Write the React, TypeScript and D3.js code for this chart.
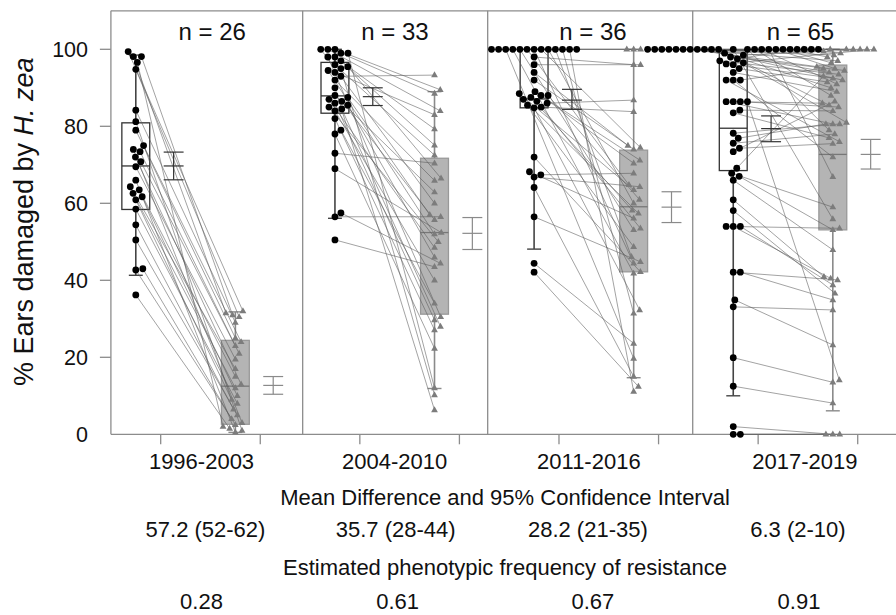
import React from 'react';
import * as d3 from 'd3';

// ---------- data ----------
const periods = ['1996-2003', '2004-2010', '2011-2016', '2017-2019'];
const nLabels = ['n = 26', 'n = 33', 'n = 36', 'n = 65'];
const meanDiffLabels = ['57.2 (52-62)', '35.7 (28-44)', '28.2 (21-35)', '6.3 (2-10)'];
const freqLabels = ['0.28', '0.61', '0.67', '0.91'];
const yTickValues = [0, 20, 40, 60, 80, 100];
const xTickValues = [1, 2, 3, 4, 5, 6, 7, 8];

// paired % ears damaged: non-Bt (circles) and Bt (triangles)
const nonBt1 = [99.4, 98.1, 98.1, 96.6, 94.8, 84.2, 81.2, 79, 75, 74, 73.4, 72, 70.8, 69.5, 66, 64.3, 63.5, 62.6, 61.7, 60.9, 58.5, 54.4, 50.5, 43, 42.7, 36.2];
const bt1 = [32, 31.5, 31, 2, 30.5, 29, 1, 25, 24, 3, 23, 13, 21, 19.5, 0.5, 17, 15, 12, 10, 9, 8, 6.5, 5, 4, 2.5, 1.5];

const nonBt2 = [100, 100, 100, 99, 99, 98, 98, 97, 96, 95.5, 95, 94.5, 94, 93, 92, 90, 88, 87.5, 87, 86.5, 86, 85.5, 85, 84.5, 84, 82, 79, 78, 73, 69, 57.5, 56.5, 50.5];
const bt2 = [89.5, 84, 60, 88.5, 12, 79.3, 30.5, 75.1, 72.5, 66.5, 10.2, 52, 83, 93.3, 65.9, 6.3, 62.9, 57, 48.5, 55.7, 29.7, 46, 50, 28, 40, 27.1, 34, 22.3, 70.4, 52.4, 44.4, 56.5, 43.5];

const nonBt3 = [100, 100, 100, 100, 100, 100, 100, 100, 100, 100, 100, 100, 100, 98, 96, 94, 92, 89, 88.5, 88, 88, 87.5, 87, 86.5, 86, 85.5, 85, 84.8, 72, 68.2, 67.4, 66.8, 64.1, 56.5, 44.4, 42.1];
const bt3 = [44.4, 74.5, 64.8, 60, 53.1, 46.1, 41.8, 31.4, 19.7, 11.1, 100, 100, 100, 96, 96, 75, 74, 71.2, 63.5, 70.4, 61, 58.2, 57.4, 53.5, 86.8, 48.7, 83.8, 32.3, 42.2, 56.1, 67.8, 64.3, 15, 44.8, 23.6, 12.4];

const nonBt4 = [100, 100, 100, 100, 100, 100, 100, 100, 100, 100, 100, 100, 100, 100, 100, 100, 100, 100, 100, 100, 100, 100, 100,
  99, 98.5, 98, 97.5, 97, 96.5, 96.2, 96, 95, 94, 92, 92, 92, 86.4, 86.4, 86.4, 86.4, 84.2, 83.5, 78.2, 76.9, 75.6, 74.3, 73.4,
  69.1, 67.8, 67, 66, 60.9, 58.1, 54, 54, 54, 42.1, 42.1, 34.9, 33.1, 19.9, 12.5, 2, 0, 0];
const bt4 = [55.9, 79, 85.5, 88, 90, 91, 92, 66.9, 94, 95, 95.5, 96.5, 97, 98, 98.5, 99, 99.5, 100, 100, 100, 100, 100, 100,
  100, 100, 94.5, 100, 93.5, 81, 100, 92.5, 91.5, 89, 72, 95, 76, 86, 85, 80.6, 14.1, 84, 77, 80.6, 80.6, 78, 75.5, 86.5,
  93, 59, 53.1, 47.9, 40.9, 36.6, 40.5, 38.8, 53.5, 40.1, 34.9, 23.2, 32.3, 13.5, 8.1, 0, 0, 0];

// box statistics (box = quartiles, middle line)
const nbQ1 = [58.4, 83.4, 84.8, 68.5];
const nbQ3 = [80.9, 96.6, 100, 99.8];
const nbMid = [69.7, 87.9, 87.1, 79.5];
const nbWLo = [41.3, 56.1, 48.1, 10.0];
const nbWHi = [98.5, 100, 100, 100];
const btQ1 = [2.6, 31.2, 42.2, 53.1];
const btQ3 = [24.4, 71.7, 73.8, 95.9];
const btMid = [12.5, 52.4, 59.1, 72.7];
const btWLo = [0.5, 11.9, 14.7, 6.1];
const btWHi = [31.8, 89, 100, 100];

// means and 95% CI
const nbMean = [69.7, 87.7, 86.8, 79.4];
const nbCiLo = [66.1, 85.4, 84.4, 76.0];
const nbCiHi = [73.3, 90.0, 89.6, 82.7];
const btMean = [12.7, 52.2, 59.0, 72.7];
const btCiLo = [10.4, 48.0, 55.0, 68.9];
const btCiHi = [15.0, 56.3, 63.0, 76.6];

// ---------- layout ----------
const W = 896, H = 615;
const x = d3.scaleLinear().domain([0.5, 8.5]).range([110.9, 907.5]);
const y = d3.scaleLinear().domain([0, 110]).range([434.3, 10.8]);
const sepPos = [2.426, 4.284, 6.343];
const periodPos = [1.41, 3.35, 5.30, 7.47];
const nPos = [1.517, 3.353, 5.341, 7.425];
const mdPos = [1.45, 3.36, 5.29, 7.40];
const frPos = [1.41, 3.38, 5.34, 7.41];
const FONT = "'Liberation Sans', Arial, Helvetica, sans-serif";

const groups = [
  { nb: nonBt1, bt: bt1 },
  { nb: nonBt2, bt: bt2 },
  { nb: nonBt3, bt: bt3 },
  { nb: nonBt4, bt: bt4 },
];

function swarm(vals: number[], cx: number, d: number): number[] {
  const order = d3.range(vals.length).sort((a, b) => vals[a] - vals[b] || a - b);
  const placed: { x: number; y: number }[] = [];
  const out: number[] = new Array(vals.length);
  for (const i of order) {
    const py = y(vals[i]);
    const near = placed.filter(p => Math.abs(p.y - py) < d);
    const cands = [0];
    near.forEach(p => {
      const dx = Math.sqrt(d * d - (p.y - py) ** 2);
      cands.push(p.x - cx + dx, p.x - cx - dx);
    });
    cands.sort((a, b) => Math.abs(a) - Math.abs(b) || b - a);
    let best = 0;
    for (const c of cands) {
      if (near.every(p => (cx + c - p.x) ** 2 + (p.y - py) ** 2 >= d * d - 0.01)) { best = c; break; }
    }
    out[i] = cx + best;
    placed.push({ x: cx + best, y: py });
  }
  return out;
}

function tri(cx: number, cy: number) {
  const s = 3.4;
  return `M${cx},${cy - s * 1.1}L${cx - s},${cy + s * 0.65}L${cx + s},${cy + s * 0.65}Z`;
}

export default function App() {
  const frameColor = '#8c8c8c';
  const panels = groups.map((g, p) => {
    const nbC = 2 * p + 0.75;
    const btC = 2 * p + 1.75;
    const nbX = swarm(g.nb, x(nbC), 7.1);
    const btX = swarm(g.bt, x(btC), 6.9);
    return { p, nbC, btC, nbX, btX, g };
  });
  const bw = x(0.64) - x(0.5); // half box width
  const cw = x(0.57) - x(0.5); // whisker cap half width
  const ciw = x(0.6) - x(0.5); // CI cap half width

  return (
    <svg width={W} height={H} style={{ position: 'absolute', left: 0, top: 0, background: '#fff' }} fontFamily={FONT}>
      <rect x={0} y={0} width={W} height={H} fill="#fff" />
      {/* frame */}
      <line x1={x(0.5)} x2={W} y1={y(110)} y2={y(110)} stroke={frameColor} strokeWidth={1.3} />
      <line x1={x(0.5)} x2={W} y1={y(0)} y2={y(0)} stroke={frameColor} strokeWidth={1.3} />
      <line x1={x(0.5)} x2={x(0.5)} y1={y(110)} y2={y(0)} stroke={frameColor} strokeWidth={1.3} />
      {sepPos.map((s, i) => (
        <line key={i} x1={x(s)} x2={x(s)} y1={y(110)} y2={y(0)} stroke={frameColor} strokeWidth={1.3} />
      ))}
      {/* y ticks */}
      {yTickValues.map(v => (
        <g key={v}>
          {v > 0 && <line x1={x(0.5) - 11} x2={x(0.5)} y1={y(v)} y2={y(v)} stroke={frameColor} strokeWidth={1.3} />}
          <text x={88} y={y(v) + 7.7} textAnchor="end" fontSize={21.5} fill="#111">{v}</text>
        </g>
      ))}
      {/* x ticks */}
      {xTickValues.map(t => (
        <line key={t} x1={x(t)} x2={x(t)} y1={y(0)} y2={y(0) + 10} stroke={frameColor} strokeWidth={1.3} />
      ))}

      {/* boxes */}
      {panels.map(({ p, nbC, btC }) => (
        <g key={'box' + p}>
          <line x1={x(nbC)} x2={x(nbC)} y1={y(nbQ1[p])} y2={y(nbWLo[p])} stroke="#444" strokeWidth={1.6} />
          <line x1={x(nbC) - cw} x2={x(nbC) + cw} y1={y(nbWLo[p])} y2={y(nbWLo[p])} stroke="#444" strokeWidth={1.4} />
          {nbWHi[p] > nbQ3[p] + 0.5 && (
            <g>
              <line x1={x(nbC)} x2={x(nbC)} y1={y(nbQ3[p])} y2={y(nbWHi[p])} stroke="#444" strokeWidth={1.6} />
              <line x1={x(nbC) - cw} x2={x(nbC) + cw} y1={y(nbWHi[p])} y2={y(nbWHi[p])} stroke="#444" strokeWidth={1.4} />
            </g>
          )}
          <rect x={x(nbC) - bw} width={2 * bw} y={y(nbQ3[p])} height={y(nbQ1[p]) - y(nbQ3[p])} fill="none" stroke="#333" strokeWidth={1.3} />
          <line x1={x(nbC) - bw} x2={x(nbC) + bw} y1={y(nbMid[p])} y2={y(nbMid[p])} stroke="#333" strokeWidth={1.3} />
          <line x1={x(btC)} x2={x(btC)} y1={y(btQ1[p])} y2={y(btWLo[p])} stroke="#8a8a8a" strokeWidth={1.6} />
          <line x1={x(btC) - cw} x2={x(btC) + cw} y1={y(btWLo[p])} y2={y(btWLo[p])} stroke="#8a8a8a" strokeWidth={1.4} />
          <line x1={x(btC)} x2={x(btC)} y1={y(btQ3[p])} y2={y(btWHi[p])} stroke="#8a8a8a" strokeWidth={1.6} />
          <line x1={x(btC) - cw} x2={x(btC) + cw} y1={y(btWHi[p])} y2={y(btWHi[p])} stroke="#8a8a8a" strokeWidth={1.4} />
          <rect x={x(btC) - bw} width={2 * bw} y={y(btQ3[p])} height={y(btQ1[p]) - y(btQ3[p])} fill="#b4b4b4" stroke="#999" strokeWidth={1.3} />
          <line x1={x(btC) - bw} x2={x(btC) + bw} y1={y(btMid[p])} y2={y(btMid[p])} stroke="#777" strokeWidth={1.3} />
        </g>
      ))}

      {/* pair lines */}
      {panels.map(({ p, nbX, btX, g }) => (
        <g key={'ln' + p}>
          {g.nb.map((v, i) => (
            <line key={i} x1={nbX[i]} y1={y(v)} x2={btX[i]} y2={y(g.bt[i])} stroke="#5a5a5a" strokeWidth={0.7} strokeOpacity={0.8} />
          ))}
        </g>
      ))}

      {/* points */}
      {panels.map(({ p, nbX, btX, g }) => (
        <g key={'pt' + p}>
          {g.bt.map((v, i) => (
            <path key={'t' + i} d={tri(btX[i], y(v))} fill="#7c7c7c" />
          ))}
          {g.nb.map((v, i) => (
            <circle key={'c' + i} cx={nbX[i]} cy={y(v)} r={3.4} fill="#000" />
          ))}
        </g>
      ))}

      {/* means and CIs */}
      {panels.map(({ p, nbC, btC }) => {
        const a = x(nbC + 0.38), b = x(btC + 0.38);
        return (
          <g key={'ci' + p}>
            <line x1={a} x2={a} y1={y(nbCiLo[p])} y2={y(nbCiHi[p])} stroke="#333" strokeWidth={1.2} />
            {[nbCiLo[p], nbMean[p], nbCiHi[p]].map((v, k) => (
              <line key={k} x1={a - ciw} x2={a + ciw} y1={y(v)} y2={y(v)} stroke="#333" strokeWidth={1.2} />
            ))}
            <line x1={b} x2={b} y1={y(btCiLo[p])} y2={y(btCiHi[p])} stroke="#8a8a8a" strokeWidth={1.2} />
            {[btCiLo[p], btMean[p], btCiHi[p]].map((v, k) => (
              <line key={k} x1={b - ciw} x2={b + ciw} y1={y(v)} y2={y(v)} stroke="#8a8a8a" strokeWidth={1.2} />
            ))}
          </g>
        );
      })}

      {/* n labels */}
      {nLabels.map((t, i) => (
        <text key={t} x={x(nPos[i])} y={40} textAnchor="middle" fontSize={24} fill="#111">{t}</text>
      ))}
      {/* x labels */}
      {periods.map((t, i) => (
        <text key={t} x={x(periodPos[i])} y={469} textAnchor="middle" fontSize={22} fill="#111">{t}</text>
      ))}
      <text x={505} y={505} textAnchor="middle" fontSize={22} fill="#111">Mean Difference and 95% Confidence Interval</text>
      {meanDiffLabels.map((t, i) => (
        <text key={t} x={x(mdPos[i])} y={537} textAnchor="middle" fontSize={22} fill="#111">{t}</text>
      ))}
      <text x={505} y={575} textAnchor="middle" fontSize={22} fill="#111">Estimated phenotypic frequency of resistance</text>
      {freqLabels.map((t, i) => (
        <text key={t} x={x(frPos[i])} y={609} textAnchor="middle" fontSize={22} fill="#111">{t}</text>
      ))}
      {/* y title */}
      <text transform={`translate(33,221.7) rotate(-90)`} textAnchor="middle" fontSize={27} fill="#111">
        % Ears damaged by <tspan fontStyle="italic">H. zea</tspan>
      </text>
    </svg>
  );
}
